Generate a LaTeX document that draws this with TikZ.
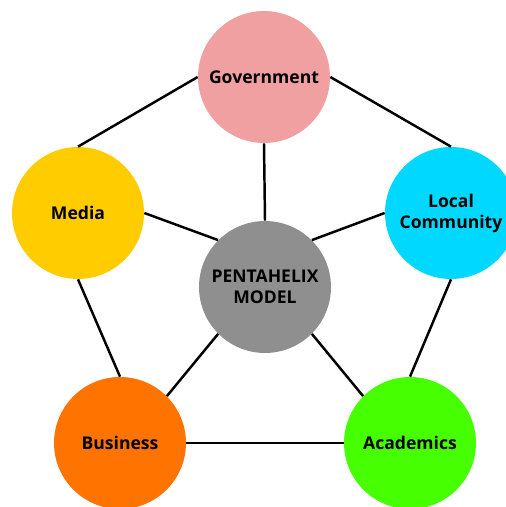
\documentclass[tikz,border=0pt]{standalone}
\usepackage{fontspec}
\setmainfont{Open Sans}
\usepackage{tikz}
\usepackage{xcolor}

\definecolor{govpink}{HTML}{F0A0A0}
\definecolor{mediayellow}{HTML}{FFCC00}
\definecolor{communitycyan}{HTML}{00D8FF}
\definecolor{modelgray}{HTML}{8F8F8F}
\definecolor{businessorange}{HTML}{FF7300}
\definecolor{academicsgreen}{HTML}{46FF00}

\begin{document}
\begin{tikzpicture}[x=0.02cm, y=-0.02cm,
    helix_style/.style={circle, minimum size=2.64cm, inner sep=0pt, align=center,
        font=\bfseries\fontsize{10}{12}\selectfont},
    link_style/.style={line width=1.4pt, black}
]
    % Frame of the page
    \useasboundingbox (0,0) rectangle (506,507);
    \clip (0,0) rectangle (506,507);

    % The five helices and the model in the middle
    \node (government) at (264,77) [helix_style, fill=govpink] {Government};
    \node (media) at (78,213) [helix_style, fill=mediayellow] {Media};
    \node (community) at (451,213) [helix_style, fill=communitycyan] {Local\\Community};
    \node (model) at (265,287) [helix_style, fill=modelgray] {PENTAHELIX\\MODEL};
    \node (business) at (120,443) [helix_style, fill=businessorange] {Business};
    \node (academics) at (410,443) [helix_style, fill=academicsgreen] {Academics};

    % Outer ring
    \draw[link_style] (government.west) -- (media.north);
    \draw[link_style] (government.east) -- (community.north);
    \draw[link_style] (media.south) -- (business.north);
    \draw[link_style] (community.south) -- (academics.north);
    \draw[link_style] (business.east) -- (academics.west);

    % Spokes to the model
    \draw[link_style] (government.south) -- (model.north);
    \draw[link_style] (media.east) -- (model.north west);
    \draw[link_style] (community.west) -- (model.north east);
    \draw[link_style] (business.north east) -- (model.south west);
    \draw[link_style] (academics.north west) -- (model.south east);

\end{tikzpicture}
\end{document}
